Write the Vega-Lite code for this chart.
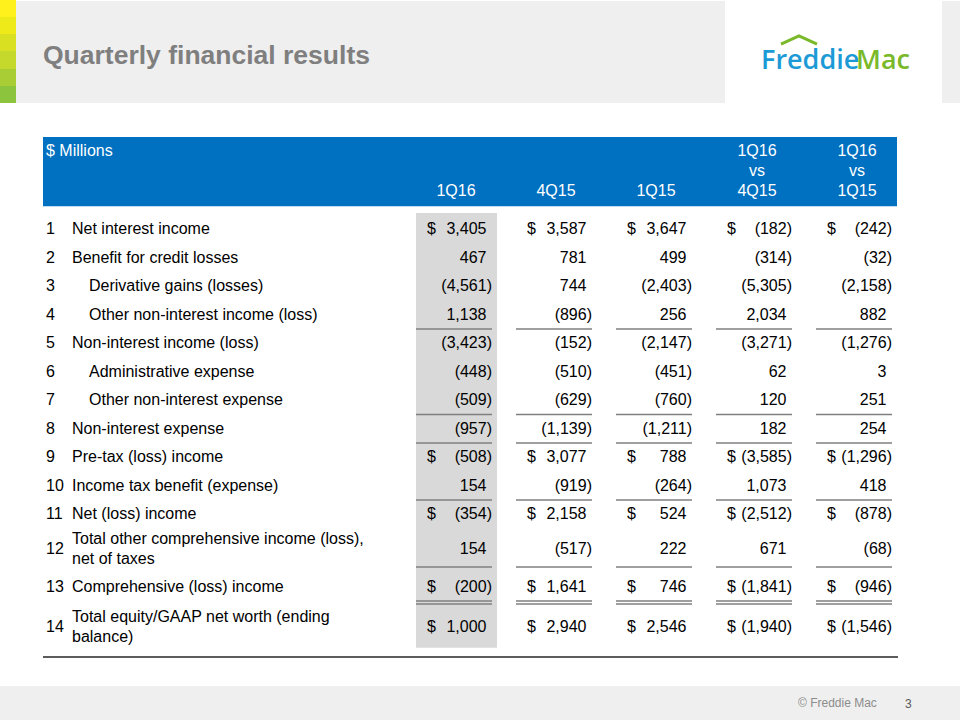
{
  "$schema": "https://vega.github.io/schema/vega-lite/v6.json",
  "width": 960,
  "height": 720,
  "autosize": {"type": "fit", "contains": "padding"},
  "padding": 0,
  "background": "white",
  "config": {"view": {"stroke": null}, "font": "Liberation Sans", "text": {"font": "Liberation Sans", "fontSize": 16}},
  "data": {"values": [
    {"row": 1, "label": "Net interest income", "level": 1, "cur": "$", "1Q16": 3405, "4Q15": 3587, "1Q15": 3647, "1Q16 vs 4Q15": -182, "1Q16 vs 1Q15": -242},
    {"row": 2, "label": "Benefit for credit losses", "level": 1, "cur": "", "1Q16": 467, "4Q15": 781, "1Q15": 499, "1Q16 vs 4Q15": -314, "1Q16 vs 1Q15": -32},
    {"row": 3, "label": "Derivative gains (losses)", "level": 2, "cur": "", "1Q16": -4561, "4Q15": 744, "1Q15": -2403, "1Q16 vs 4Q15": -5305, "1Q16 vs 1Q15": -2158},
    {"row": 4, "label": "Other non-interest income (loss)", "level": 2, "cur": "", "1Q16": 1138, "4Q15": -896, "1Q15": 256, "1Q16 vs 4Q15": 2034, "1Q16 vs 1Q15": 882},
    {"row": 5, "label": "Non-interest income (loss)", "level": 1, "cur": "", "1Q16": -3423, "4Q15": -152, "1Q15": -2147, "1Q16 vs 4Q15": -3271, "1Q16 vs 1Q15": -1276},
    {"row": 6, "label": "Administrative expense", "level": 2, "cur": "", "1Q16": -448, "4Q15": -510, "1Q15": -451, "1Q16 vs 4Q15": 62, "1Q16 vs 1Q15": 3},
    {"row": 7, "label": "Other non-interest expense", "level": 2, "cur": "", "1Q16": -509, "4Q15": -629, "1Q15": -760, "1Q16 vs 4Q15": 120, "1Q16 vs 1Q15": 251},
    {"row": 8, "label": "Non-interest expense", "level": 1, "cur": "", "1Q16": -957, "4Q15": -1139, "1Q15": -1211, "1Q16 vs 4Q15": 182, "1Q16 vs 1Q15": 254},
    {"row": 9, "label": "Pre-tax (loss) income", "level": 1, "cur": "$", "1Q16": -508, "4Q15": 3077, "1Q15": 788, "1Q16 vs 4Q15": -3585, "1Q16 vs 1Q15": -1296},
    {"row": 10, "label": "Income tax benefit (expense)", "level": 1, "cur": "", "1Q16": 154, "4Q15": -919, "1Q15": -264, "1Q16 vs 4Q15": 1073, "1Q16 vs 1Q15": 418},
    {"row": 11, "label": "Net (loss) income", "level": 1, "cur": "$", "1Q16": -354, "4Q15": 2158, "1Q15": 524, "1Q16 vs 4Q15": -2512, "1Q16 vs 1Q15": -878},
    {"row": 12, "label": "Total other comprehensive income (loss),\nnet of taxes", "level": 1, "cur": "", "1Q16": 154, "4Q15": -517, "1Q15": 222, "1Q16 vs 4Q15": 671, "1Q16 vs 1Q15": -68},
    {"row": 13, "label": "Comprehensive (loss) income", "level": 1, "cur": "$", "1Q16": -200, "4Q15": 1641, "1Q15": 746, "1Q16 vs 4Q15": -1841, "1Q16 vs 1Q15": -946},
    {"row": 14, "label": "Total equity/GAAP net worth (ending\nbalance)", "level": 1, "cur": "$", "1Q16": 1000, "4Q15": 2940, "1Q15": 2546, "1Q16 vs 4Q15": -1940, "1Q16 vs 1Q15": -1546}
  ]},
  "resolve": {"scale": {"x": "independent"}},
  "layer": [
    {
      "data": {"values": [{}]},
      "mark": {"type": "rect", "fill": "#EFEFEF"},
      "encoding": {"x": {"value": 16}, "x2": {"value": 725}, "y": {"value": 1}, "y2": {"value": 103}}
    },
    {
      "data": {"values": [{}]},
      "mark": {"type": "rect", "fill": "#EFEFEF"},
      "encoding": {"x": {"value": 942}, "x2": {"value": 960}, "y": {"value": 1}, "y2": {"value": 103}}
    },
    {
      "data": {"values": [{}]},
      "mark": {"type": "rect", "fill": {"gradient": "linear", "x1": 0, "y1": 0, "x2": 0, "y2": 1, "stops": [
        {"offset": 0, "color": "#FFF21C"}, {"offset": 0.167, "color": "#FFF21C"},
        {"offset": 0.167, "color": "#EEEA1A"}, {"offset": 0.333, "color": "#EEEA1A"},
        {"offset": 0.333, "color": "#D9E022"}, {"offset": 0.5, "color": "#D9E022"},
        {"offset": 0.5, "color": "#C4D92B"}, {"offset": 0.667, "color": "#C4D92B"},
        {"offset": 0.667, "color": "#A9CE35"}, {"offset": 0.833, "color": "#A9CE35"},
        {"offset": 0.833, "color": "#8DC43D"}, {"offset": 1, "color": "#8DC43D"}]}},
      "encoding": {"x": {"value": 0}, "x2": {"value": 16}, "y": {"value": 0}, "y2": {"value": 103}}
    },
    {
      "data": {"values": [{}]},
      "mark": {"type": "rect", "fill": "#EFEFEF"},
      "encoding": {"x": {"value": 0}, "x2": {"value": 960}, "y": {"value": 686}, "y2": {"value": 720}}
    },
    {
      "data": {"values": [{}]},
      "mark": {"type": "text", "text": "Quarterly financial results", "align": "left", "baseline": "alphabetic", "fontSize": 26.5, "fontWeight": "bold", "fill": "#7F7F7F"},
      "encoding": {"x": {"value": 43}, "y": {"value": 64}}
    },
    {
      "data": {"values": [{}]},
      "mark": {"type": "text", "text": "Freddie", "align": "left", "baseline": "alphabetic", "font": "Open Sans", "fontSize": 27, "fontWeight": 600, "fill": "#1C9AD6"},
      "encoding": {"x": {"value": 761}, "y": {"value": 69}}
    },
    {
      "data": {"values": [{}]},
      "mark": {"type": "text", "text": "Mac", "align": "left", "baseline": "alphabetic", "font": "Open Sans", "fontSize": 27, "fontWeight": 600, "fill": "#7AB929"},
      "encoding": {"x": {"value": 856}, "y": {"value": 69}}
    },
    {
      "data": {"values": [{}]},
      "mark": {"type": "point", "shape": "M-1,0.23L0,-0.23L1,0.23", "size": 1296, "filled": false, "stroke": "#7AB929", "strokeWidth": 3, "opacity": 1},
      "encoding": {"x": {"value": 799}, "y": {"value": 40}}
    },
    {
      "data": {"values": [{}]},
      "mark": {"type": "text", "text": "© Freddie Mac", "align": "left", "baseline": "middle", "fontSize": 12, "fill": "#8C8C8C"},
      "encoding": {"x": {"value": 798}, "y": {"value": 703}}
    },
    {
      "data": {"values": [{}]},
      "mark": {"type": "text", "text": "3", "align": "left", "baseline": "middle", "fontSize": 12, "fill": "#595959"},
      "encoding": {"x": {"value": 905}, "y": {"value": 704}}
    },
    {
      "data": {"values": [{}]},
      "mark": {"type": "rect", "fill": "#0070C0"},
      "encoding": {
        "x": {"value": 43}, "x2": {"value": 897},
        "y": {"datum": -1.42, "type": "quantitative", "axis": null, "scale": {"domain": [0, 1, 11, 12, 13, 14], "range": [191, 229, 514, 549, 587, 627], "zero": false, "nice": false}},
        "y2": {"datum": 0.4}
      }
    },
    {
      "data": {"values": [{}]},
      "mark": {"type": "rect", "fill": "#D9D9D9", "xOffset": -76, "x2Offset": 5},
      "encoding": {
        "x": {"datum": "1Q16", "type": "nominal", "axis": null, "scale": {"type": "point", "domain": ["1Q16", "4Q15", "1Q15", "1Q16 vs 4Q15", "1Q16 vs 1Q15"], "range": [492, 892], "padding": 0}},
        "x2": {"datum": "1Q16"},
        "y": {"datum": 0.58, "type": "quantitative", "axis": null, "scale": {"domain": [0, 1, 11, 12, 13, 14], "range": [191, 229, 514, 549, 587, 627], "zero": false, "nice": false}},
        "y2": {"datum": 14.52}
      }
    },
    {
      "data": {"values": [
        {"col": "1Q16", "head": "1Q16"},
        {"col": "4Q15", "head": "4Q15"},
        {"col": "1Q15", "head": "1Q15"},
        {"col": "1Q16 vs 4Q15", "head": "1Q16\nvs\n4Q15"},
        {"col": "1Q16 vs 1Q15", "head": "1Q16\nvs\n1Q15"}
      ]},
      "transform": [{"filter": "indexof(datum.head, '\\n') < 0"}],
      "mark": {"type": "text", "align": "center", "baseline": "middle", "lineBreak": "\n", "lineHeight": 20, "dx": -36, "fill": "white"},
      "encoding": {
        "x": {"field": "col", "type": "nominal", "axis": null, "scale": {"type": "point", "domain": ["1Q16", "4Q15", "1Q15", "1Q16 vs 4Q15", "1Q16 vs 1Q15"], "range": [492, 892], "padding": 0}},
        "y": {"datum": 0, "type": "quantitative", "axis": null, "scale": {"domain": [0, 1, 11, 12, 13, 14], "range": [191, 229, 514, 549, 587, 627], "zero": false, "nice": false}},
        "text": {"field": "head"}
      }
    },
    {
      "data": {"values": [
        {"col": "1Q16", "head": "1Q16"},
        {"col": "4Q15", "head": "4Q15"},
        {"col": "1Q15", "head": "1Q15"},
        {"col": "1Q16 vs 4Q15", "head": "1Q16\nvs\n4Q15"},
        {"col": "1Q16 vs 1Q15", "head": "1Q16\nvs\n1Q15"}
      ]},
      "transform": [{"filter": "indexof(datum.head, '\\n') >= 0"}],
      "mark": {"type": "text", "align": "center", "baseline": "middle", "lineBreak": "\n", "lineHeight": 20, "dx": -35, "dy": -40, "fill": "white"},
      "encoding": {
        "x": {"field": "col", "type": "nominal", "axis": null, "scale": {"type": "point", "domain": ["1Q16", "4Q15", "1Q15", "1Q16 vs 4Q15", "1Q16 vs 1Q15"], "range": [492, 892], "padding": 0}},
        "y": {"datum": 0, "type": "quantitative", "axis": null, "scale": {"domain": [0, 1, 11, 12, 13, 14], "range": [191, 229, 514, 549, 587, 627], "zero": false, "nice": false}},
        "text": {"field": "head"}
      }
    },
    {
      "data": {"values": [{"head": "$ Millions"}]},
      "mark": {"type": "text", "align": "left", "baseline": "middle", "fill": "white"},
      "encoding": {
        "x": {"datum": 0, "type": "quantitative", "axis": null, "scale": {"domain": [0, 1, 2], "range": [46, 72, 89], "zero": false, "nice": false}},
        "y": {"datum": -1.05, "type": "quantitative", "axis": null, "scale": {"domain": [0, 1, 11, 12, 13, 14], "range": [191, 229, 514, 549, 587, 627], "zero": false, "nice": false}},
        "text": {"field": "head"}
      }
    },
    {
      "mark": {"type": "text", "align": "left", "baseline": "middle", "fill": "black"},
      "encoding": {
        "x": {"datum": 0, "type": "quantitative", "axis": null, "scale": {"domain": [0, 1, 2], "range": [46, 72, 89], "zero": false, "nice": false}},
        "y": {"field": "row", "type": "quantitative", "axis": null, "scale": {"domain": [0, 1, 11, 12, 13, 14], "range": [191, 229, 514, 549, 587, 627], "zero": false, "nice": false}},
        "text": {"field": "row", "type": "quantitative"}
      }
    },
    {
      "transform": [{"filter": "indexof(datum.label, '\\n') < 0"}],
      "mark": {"type": "text", "align": "left", "baseline": "middle", "lineBreak": "\n", "lineHeight": 20, "fill": "black"},
      "encoding": {
        "x": {"field": "level", "type": "quantitative", "axis": null, "scale": {"domain": [0, 1, 2], "range": [46, 72, 89], "zero": false, "nice": false}},
        "y": {"field": "row", "type": "quantitative", "axis": null, "scale": {"domain": [0, 1, 11, 12, 13, 14], "range": [191, 229, 514, 549, 587, 627], "zero": false, "nice": false}},
        "text": {"field": "label"}
      }
    },
    {
      "transform": [{"filter": "indexof(datum.label, '\\n') >= 0"}],
      "mark": {"type": "text", "align": "left", "baseline": "middle", "lineBreak": "\n", "lineHeight": 20, "dy": -10, "fill": "black"},
      "encoding": {
        "x": {"field": "level", "type": "quantitative", "axis": null, "scale": {"domain": [0, 1, 2], "range": [46, 72, 89], "zero": false, "nice": false}},
        "y": {"field": "row", "type": "quantitative", "axis": null, "scale": {"domain": [0, 1, 11, 12, 13, 14], "range": [191, 229, 514, 549, 587, 627], "zero": false, "nice": false}},
        "text": {"field": "label"}
      }
    },
    {
      "transform": [{"fold": ["1Q16", "4Q15", "1Q15", "1Q16 vs 4Q15", "1Q16 vs 1Q15"], "as": ["col", "v"]}, {"filter": "datum.v < 0"}],
      "mark": {"type": "text", "align": "right", "baseline": "middle", "fill": "black"},
      "encoding": {
        "x": {"field": "col", "type": "nominal", "axis": null, "scale": {"type": "point", "domain": ["1Q16", "4Q15", "1Q15", "1Q16 vs 4Q15", "1Q16 vs 1Q15"], "range": [492, 892], "padding": 0}},
        "y": {"field": "row", "type": "quantitative", "axis": null, "scale": {"domain": [0, 1, 11, 12, 13, 14], "range": [191, 229, 514, 549, 587, 627], "zero": false, "nice": false}},
        "text": {"field": "v", "type": "quantitative", "format": "(,.0f"}
      }
    },
    {
      "transform": [{"fold": ["1Q16", "4Q15", "1Q15", "1Q16 vs 4Q15", "1Q16 vs 1Q15"], "as": ["col", "v"]}, {"filter": "datum.v >= 0"}],
      "mark": {"type": "text", "align": "right", "baseline": "middle", "dx": -5.5, "fill": "black"},
      "encoding": {
        "x": {"field": "col", "type": "nominal", "axis": null, "scale": {"type": "point", "domain": ["1Q16", "4Q15", "1Q15", "1Q16 vs 4Q15", "1Q16 vs 1Q15"], "range": [492, 892], "padding": 0}},
        "y": {"field": "row", "type": "quantitative", "axis": null, "scale": {"domain": [0, 1, 11, 12, 13, 14], "range": [191, 229, 514, 549, 587, 627], "zero": false, "nice": false}},
        "text": {"field": "v", "type": "quantitative", "format": ",.0f"}
      }
    },
    {
      "transform": [{"fold": ["1Q16", "4Q15", "1Q15", "1Q16 vs 4Q15", "1Q16 vs 1Q15"], "as": ["col", "v"]}, {"filter": "datum.cur == '$' && datum.row != 14"}],
      "mark": {"type": "text", "align": "left", "baseline": "middle", "dx": -65, "fill": "black"},
      "encoding": {
        "x": {"field": "col", "type": "nominal", "axis": null, "scale": {"type": "point", "domain": ["1Q16", "4Q15", "1Q15", "1Q16 vs 4Q15", "1Q16 vs 1Q15"], "range": [492, 892], "padding": 0}},
        "y": {"field": "row", "type": "quantitative", "axis": null, "scale": {"domain": [0, 1, 11, 12, 13, 14], "range": [191, 229, 514, 549, 587, 627], "zero": false, "nice": false}},
        "text": {"field": "cur"}
      }
    },
    {
      "transform": [{"fold": ["1Q16", "4Q15", "1Q15", "1Q16 vs 4Q15", "1Q16 vs 1Q15"], "as": ["col", "v"]}, {"filter": "datum.cur == '$' && datum.row == 14"}],
      "mark": {"type": "text", "align": "right", "baseline": "middle", "dx": -56, "fill": "black"},
      "encoding": {
        "x": {"field": "col", "type": "nominal", "axis": null, "scale": {"type": "point", "domain": ["1Q16", "4Q15", "1Q15", "1Q16 vs 4Q15", "1Q16 vs 1Q15"], "range": [492, 892], "padding": 0}},
        "y": {"field": "row", "type": "quantitative", "axis": null, "scale": {"domain": [0, 1, 11, 12, 13, 14], "range": [191, 229, 514, 549, 587, 627], "zero": false, "nice": false}},
        "text": {"field": "cur"}
      }
    },
    {
      "transform": [{"fold": ["1Q16", "4Q15", "1Q15", "1Q16 vs 4Q15", "1Q16 vs 1Q15"], "as": ["col", "v"]}, {"filter": {"field": "row", "oneOf": [4, 7, 8, 10]}}],
      "mark": {"type": "rule", "stroke": "#7F7F7F", "strokeWidth": 1.5, "xOffset": -76, "yOffset": 14.5, "y2Offset": 14.5},
      "encoding": {
        "x": {"field": "col", "type": "nominal", "axis": null, "scale": {"type": "point", "domain": ["1Q16", "4Q15", "1Q15", "1Q16 vs 4Q15", "1Q16 vs 1Q15"], "range": [492, 892], "padding": 0}},
        "x2": {"field": "col"},
        "y": {"field": "row", "type": "quantitative", "axis": null, "scale": {"domain": [0, 1, 11, 12, 13, 14], "range": [191, 229, 514, 549, 587, 627], "zero": false, "nice": false}}
      }
    },
    {
      "transform": [{"fold": ["1Q16", "4Q15", "1Q15", "1Q16 vs 4Q15", "1Q16 vs 1Q15"], "as": ["col", "v"]}, {"filter": "datum.row == 12"}],
      "mark": {"type": "rule", "stroke": "#7F7F7F", "strokeWidth": 1.5, "xOffset": -76, "yOffset": 18},
      "encoding": {
        "x": {"field": "col", "type": "nominal", "axis": null, "scale": {"type": "point", "domain": ["1Q16", "4Q15", "1Q15", "1Q16 vs 4Q15", "1Q16 vs 1Q15"], "range": [492, 892], "padding": 0}},
        "x2": {"field": "col"},
        "y": {"field": "row", "type": "quantitative", "axis": null, "scale": {"domain": [0, 1, 11, 12, 13, 14], "range": [191, 229, 514, 549, 587, 627], "zero": false, "nice": false}}
      }
    },
    {
      "transform": [{"fold": ["1Q16", "4Q15", "1Q15", "1Q16 vs 4Q15", "1Q16 vs 1Q15"], "as": ["col", "v"]}, {"filter": "datum.row == 13"}],
      "mark": {"type": "rule", "stroke": "#7F7F7F", "strokeWidth": 1.5, "xOffset": -76, "yOffset": 14},
      "encoding": {
        "x": {"field": "col", "type": "nominal", "axis": null, "scale": {"type": "point", "domain": ["1Q16", "4Q15", "1Q15", "1Q16 vs 4Q15", "1Q16 vs 1Q15"], "range": [492, 892], "padding": 0}},
        "x2": {"field": "col"},
        "y": {"field": "row", "type": "quantitative", "axis": null, "scale": {"domain": [0, 1, 11, 12, 13, 14], "range": [191, 229, 514, 549, 587, 627], "zero": false, "nice": false}}
      }
    },
    {
      "transform": [{"fold": ["1Q16", "4Q15", "1Q15", "1Q16 vs 4Q15", "1Q16 vs 1Q15"], "as": ["col", "v"]}, {"filter": "datum.row == 13"}],
      "mark": {"type": "rule", "stroke": "#7F7F7F", "strokeWidth": 1.5, "xOffset": -76, "yOffset": 17},
      "encoding": {
        "x": {"field": "col", "type": "nominal", "axis": null, "scale": {"type": "point", "domain": ["1Q16", "4Q15", "1Q15", "1Q16 vs 4Q15", "1Q16 vs 1Q15"], "range": [492, 892], "padding": 0}},
        "x2": {"field": "col"},
        "y": {"field": "row", "type": "quantitative", "axis": null, "scale": {"domain": [0, 1, 11, 12, 13, 14], "range": [191, 229, 514, 549, 587, 627], "zero": false, "nice": false}}
      }
    },
    {
      "data": {"values": [{}]},
      "mark": {"type": "rule", "stroke": "#262626", "strokeWidth": 1.5},
      "encoding": {
        "x": {"value": 43}, "x2": {"value": 898},
        "y": {"datum": 14.75, "type": "quantitative", "axis": null, "scale": {"domain": [0, 1, 11, 12, 13, 14], "range": [191, 229, 514, 549, 587, 627], "zero": false, "nice": false}}
      }
    }
  ]
}
